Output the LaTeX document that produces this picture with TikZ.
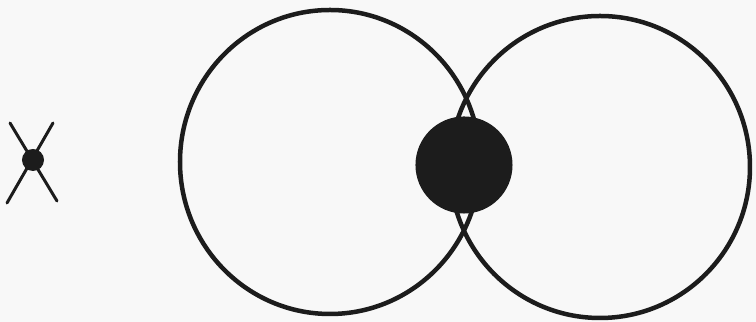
\documentclass[tikz,border=0pt]{standalone}
\usetikzlibrary{positioning,calc}
\definecolor{ink}{HTML}{1C1C1C}
\definecolor{paper}{HTML}{F8F8F8}
\tikzset{
  ring/.style={draw=ink,line width=0.045cm},
  arm/.style={draw=ink,line width=0.03cm,line cap=round},
  blob/.style={circle,fill=ink,inner sep=0pt}
}
\begin{document}
\begin{tikzpicture}[x=0.01cm,y=-0.01cm]
% ===================== frame =====================
\fill[paper] (0,0) rectangle (756,322);
\useasboundingbox (0,0) rectangle (756,322);
% ================= small crossed point =================
\coordinate (tl) at (10,123);
\coordinate (tr) at (53,123);
\coordinate (bl) at (7,203);
\coordinate (br) at (57,201);
\draw[arm] (tl) -- (br);
\draw[arm] (tr) -- (bl);
\node[blob,minimum size=0.22cm] (dot) at (33,160) {};
% ================= the two rings =================
\draw[ring] (330,162) circle [x radius=150,y radius=152];
\draw[ring] (600,167) circle [x radius=150,y radius=151];
\node[blob,minimum size=0.97cm] (core) at (464,165) {};
\end{tikzpicture}
\end{document}
